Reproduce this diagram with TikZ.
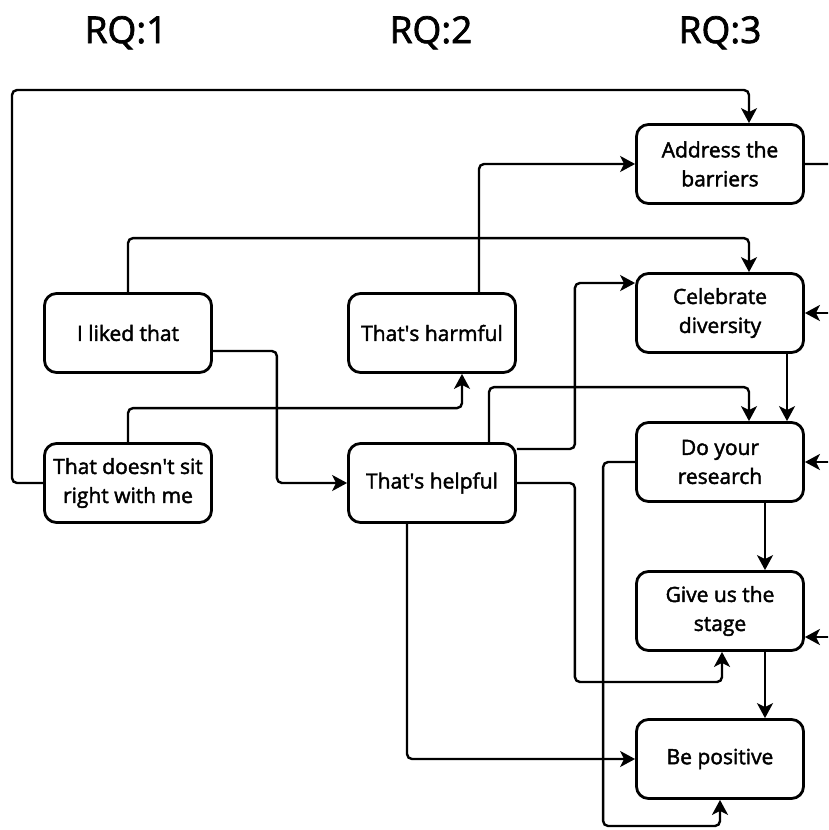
\documentclass[tikz,border=0pt]{standalone}
\usepackage{fontspec}
\setmainfont{Open Sans}
\newfontfamily\medfont{Open Sans}[FakeBold=2]
\usepackage{tikz}
\usetikzlibrary{arrows.meta}

\begin{document}
\begin{tikzpicture}[x=1pt,y=1pt]
		\tikzstyle{every node}+=[inner sep=0pt]
		\tikzstyle{qbox}=[draw, black, line width=2.8pt, rounded corners=12pt, minimum width=167pt, minimum height=79pt, align=center, font=\medfont\fontsize{21}{29}\selectfont]
		\tikzstyle{rq}=[anchor=base, font=\medfont\fontsize{37}{40}\selectfont]
		\tikzstyle{wire}=[black, line width=2.4pt, rounded corners=5pt]
		\tikzstyle{link}=[wire, -{Stealth[length=15pt,width=16pt,inset=4pt]}]
		\useasboundingbox (0,0) rectangle (828,-830);
		\clip (0,0) rectangle (828,-830);
		\node [rq] (rq1) at (126,-43) {RQ:1};
		\node [rq] (rq2) at (431,-43) {RQ:2};
		\node [rq] (rq3) at (720,-43) {RQ:3};
		\node [qbox] (liked) at (128,-333) {I liked that};
		\node [qbox] (doesnt) at (128,-483) {That doesn\textquotesingle t sit\\right with me};
		\node [qbox] (harmful) at (432,-333) {That\textquotesingle s harmful};
		\node [qbox] (helpful) at (432,-483) {That\textquotesingle s helpful};
		\node [qbox] (addr) at (720,-164) {Address the\\barriers};
		\node [qbox] (cel) at (720,-313) {Celebrate\\diversity};
		\node [qbox] (do) at (720,-462) {Do your\\research};
		\node [qbox] (give) at (720,-611) {Give us the\\stage};
		\node [qbox] (be) at (720,-759) {Be positive};
		\coordinate (rail) at (842,-164);
		\draw [link] (doesnt.west) -| (12,-90) -| ([xshift=29pt]addr.north);
		\draw [link] (doesnt.north) -- ++(0,34) -| ([xshift=30pt]harmful.south);
		\draw [link] (liked.north) -- ++(0,54) -| ([xshift=29pt]cel.north);
		\draw [link] ([yshift=-18pt]liked.east) -- ++(64,0) |- (helpful.west);
		\draw [link] ([xshift=47pt]harmful.north) |- (addr.west);
		\draw [link] ([xshift=57pt]helpful.north) -- ++(0,55) -| ([xshift=29pt]do.north);
		\draw [link] ([yshift=34pt]helpful.east) -- ++(58,0) |- ([yshift=30pt]cel.west);
		\draw [link] (helpful.east) -- ++(58,0) -- ++(0,-199) -| ([xshift=2pt]give.south);
		\draw [link] ([xshift=-25pt]helpful.south) |- (be.west);
		\draw [link] ([xshift=67pt]cel.south) -- ([xshift=67pt]do.north);
		\draw [link] ([xshift=45pt]do.south) -- ([xshift=45pt]give.north);
		\draw [link] ([xshift=45pt]give.south) -- ([xshift=45pt]be.north);
		\draw [link] (do.west) -- ++(-32,0) -- ++(0,-364) -| (be.south);
		\draw [wire] (addr.east) -- (rail) -- (rail |- 0,-637);
		\draw [link] (rail |- cel.east) -- (cel.east);
		\draw [link] (rail |- do.east) -- (do.east);
		\draw [link] (rail |- 0,-637) -- ([yshift=-26pt]give.east);
\end{tikzpicture}
\end{document}
